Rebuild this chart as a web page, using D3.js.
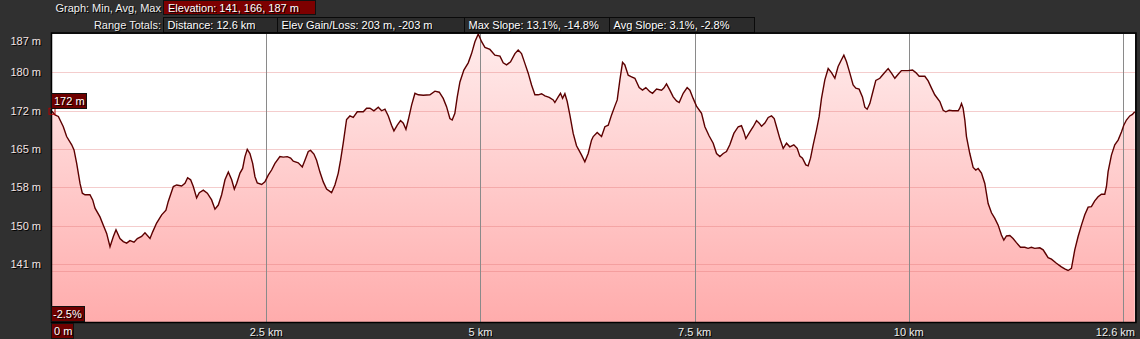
<!DOCTYPE html>
<html>
<head>
<meta charset="utf-8">
<script src="https://cdn.jsdelivr.net/npm/d3@7"></script>
<style>
  html, body { margin: 0; padding: 0; background: #303030; }
  svg { display: block; }
  text { font-family: "Liberation Sans", Arial, sans-serif; font-size: 11px; }
</style>
</head>
<body>
<svg id="chart" width="1140" height="339"></svg>
<script>
// distance along the track (km) and elevation (m)
var distKm = [0, 0.035, 0.074, 0.132, 0.171, 0.230, 0.257, 0.288, 0.327, 0.354, 0.385, 0.443, 0.475, 0.502, 0.560, 0.599, 0.638, 0.677, 0.716, 0.747, 0.793, 0.832, 0.871, 0.910, 0.957, 0.996, 1.046, 1.085, 1.144, 1.175, 1.221, 1.280, 1.330, 1.357, 1.416, 1.455, 1.513, 1.552, 1.583, 1.618, 1.649, 1.688, 1.719, 1.766, 1.813, 1.863, 1.902, 1.941, 1.980, 2.019, 2.058, 2.097, 2.128, 2.155, 2.194, 2.225, 2.252, 2.279, 2.310, 2.342, 2.369, 2.396, 2.447, 2.485, 2.524, 2.563, 2.602, 2.660, 2.699, 2.746, 2.785, 2.816, 2.874, 2.921, 2.952, 2.991, 3.018, 3.057, 3.088, 3.127,
  3.166, 3.205, 3.263, 3.302, 3.341, 3.368, 3.399, 3.438, 3.477, 3.516, 3.563, 3.633, 3.672, 3.711, 3.757, 3.808, 3.847, 3.886, 3.925, 3.963, 3.991, 4.030, 4.068, 4.100, 4.131, 4.158, 4.197, 4.236, 4.275, 4.333, 4.411, 4.469, 4.520, 4.566, 4.605, 4.644, 4.671, 4.702, 4.730, 4.761, 4.807, 4.858, 4.897, 4.936, 4.975, 5.014, 5.053, 5.111, 5.169, 5.228, 5.266, 5.305, 5.352, 5.403, 5.441, 5.480, 5.519, 5.558, 5.597, 5.636, 5.675, 5.714, 5.753, 5.803, 5.850, 5.869, 5.908, 5.935, 5.959, 5.986, 6.013, 6.044, 6.083, 6.122, 6.181, 6.219, 6.258, 6.297,
  6.317, 6.363, 6.414, 6.453, 6.492, 6.531, 6.569, 6.597, 6.628, 6.659, 6.686, 6.725, 6.764, 6.803, 6.853, 6.892, 6.931, 6.978, 7.009, 7.056, 7.114, 7.141, 7.172, 7.211, 7.250, 7.289, 7.320, 7.367, 7.413, 7.445, 7.483, 7.522, 7.581, 7.620, 7.670, 7.717, 7.756, 7.795, 7.834, 7.872, 7.911, 7.958, 8.009, 8.047, 8.075, 8.098, 8.145, 8.184, 8.223, 8.254, 8.281, 8.320, 8.359, 8.398, 8.429, 8.456, 8.495, 8.534, 8.573, 8.611, 8.658, 8.697, 8.728, 8.759, 8.798, 8.825, 8.853, 8.884, 8.923, 8.954, 8.981, 9.020, 9.059, 9.098, 9.137, 9.175, 9.214, 9.242, 9.273, 9.312, 9.350, 9.382, 9.420, 9.459,
  9.487, 9.514, 9.545, 9.576, 9.615, 9.662, 9.701, 9.759, 9.798, 9.837, 9.876, 9.914, 9.992, 10.043, 10.082, 10.121, 10.187, 10.226, 10.265, 10.303, 10.362, 10.401, 10.432, 10.471, 10.510, 10.576, 10.595, 10.615, 10.634, 10.654, 10.673, 10.712, 10.751, 10.782, 10.809, 10.848, 10.887, 10.926, 10.965, 11.004, 11.043, 11.081, 11.109, 11.140, 11.179, 11.217, 11.256, 11.303, 11.354, 11.392, 11.431, 11.470, 11.529, 11.568, 11.599, 11.626, 11.665, 11.723, 11.781, 11.820, 11.859, 11.898, 11.937, 11.976, 12.015, 12.054, 12.093, 12.131, 12.170, 12.209, 12.248, 12.287, 12.307, 12.326, 12.365, 12.404, 12.443, 12.482, 12.509, 12.540, 12.579, 12.610, 12.637];

var elevM = [172.0, 171.3, 171.0, 169.0, 167.1, 165.5, 164.5, 161.9, 158.0, 156.1, 155.8, 155.8, 154.8, 153.2, 151.5, 149.9, 148.3, 145.7, 147.7, 149.0, 147.3, 146.7, 146.4, 146.9, 146.6, 147.3, 147.7, 148.4, 147.3, 148.6, 150.3, 151.9, 152.8, 154.5, 157.4, 157.7, 157.5, 158.0, 159.1, 158.7, 157.4, 155.2, 156.2, 156.7, 156.1, 154.8, 153.0, 153.8, 155.8, 158.7, 160.2, 158.7, 156.9, 158.0, 160.0, 160.9, 163.2, 164.6, 163.8, 161.9, 159.3, 158.1, 157.8, 158.3, 159.6, 160.6, 161.9, 163.2, 163.1, 163.2, 162.9, 162.3, 162.0, 161.2, 162.5, 164.2, 164.4, 163.7, 162.5, 160.2,
  158.3, 156.9, 156.2, 157.7, 160.0, 162.5, 165.8, 170.4, 171.1, 170.8, 171.9, 171.9, 172.6, 172.6, 172.1, 172.8, 172.1, 172.4, 171.1, 169.3, 168.2, 169.3, 170.2, 169.7, 168.5, 170.3, 173.2, 175.5, 175.2, 175.1, 175.2, 175.9, 175.7, 174.5, 172.9, 170.6, 170.3, 171.6, 174.8, 177.7, 180.0, 181.4, 183.2, 185.5, 187.0, 185.5, 184.4, 184.0, 182.9, 182.7, 181.4, 181.0, 181.6, 183.2, 183.9, 183.2, 181.3, 179.4, 177.1, 175.2, 175.2, 175.4, 175.0, 174.7, 174.2, 173.7, 174.8, 175.5, 174.5, 175.4, 173.9, 171.3, 167.7, 165.3, 163.5, 162.2, 163.8, 166.4,
  167.1, 167.9, 167.1, 169.0, 169.3, 171.3, 173.0, 174.2, 178.1, 181.5, 181.0, 179.0, 178.7, 178.4, 176.6, 176.1, 176.6, 175.8, 175.5, 176.3, 176.1, 176.5, 177.3, 176.1, 174.8, 174.0, 173.7, 175.5, 176.6, 176.1, 174.5, 173.0, 171.6, 169.0, 167.2, 165.8, 163.8, 163.2, 163.8, 164.2, 165.5, 167.7, 169.0, 169.2, 168.0, 166.7, 168.0, 169.0, 170.2, 169.7, 169.1, 169.7, 170.8, 171.1, 170.6, 169.0, 166.7, 164.8, 165.8, 165.1, 165.5, 164.8, 163.3, 162.9, 161.6, 161.4, 162.9, 165.5, 168.4, 171.0, 174.5, 178.1, 180.3, 179.5, 178.4, 180.7, 182.0, 182.9, 181.6, 179.4, 177.1, 176.5, 176.3, 174.8,
  172.8, 172.4, 173.5, 175.5, 178.0, 178.4, 179.2, 180.3, 179.4, 178.4, 179.2, 179.9, 179.9, 180.0, 179.5, 178.8, 178.8, 177.9, 176.5, 175.2, 173.9, 172.2, 171.9, 172.2, 172.1, 172.1, 172.6, 173.5, 172.6, 170.3, 167.1, 163.8, 161.1, 160.6, 160.9, 160.0, 158.0, 154.1, 152.3, 151.2, 149.9, 148.0, 147.0, 147.8, 147.9, 147.3, 146.5, 145.6, 145.6, 145.4, 145.6, 145.4, 145.5, 145.1, 144.3, 143.6, 143.3, 142.5, 141.8, 141.4, 141.1, 141.5, 145.1, 147.7, 149.9, 151.9, 153.4, 153.5, 154.6, 155.4, 155.9, 155.9, 157.4, 160.3, 163.5, 165.5, 166.4, 168.0, 169.3, 170.3, 171.1, 171.4, 171.9];

var yTickLabels = ["187 m", "180 m", "172 m", "165 m", "158 m", "150 m", "141 m"];
var xTickValues = [2.5, 5, 7.5, 10, 12.5];
var xTickLabels = ["2.5 km", "5 km", "7.5 km", "10 km"];
var totalKm = 12.64;
var minElev = 141, maxElev = 187;
var startLabel = "172 m";
var slopeLabel = "-2.5%";
var originLabel = "0 m";
var graphRow = ["Elevation: 141, 166, 187 m"];
var totalsRow = ["Distance: 12.6 km", "Elev Gain/Loss: 203 m, -203 m", "Max Slope: 13.1%, -14.8%", "Avg Slope: 3.1%, -2.8%"];
var totalsWidths = [114, 187, 145, 145];

(function() {
  var svg = d3.select("#chart");
  var pLeft = 52, pRight = 1135, pTop = 34, pBottom = 322;

  var x = d3.scaleLinear().domain([0, totalKm]).range([pLeft, pRight]);
  var y = d3.scaleLinear().domain([minElev, maxElev]).range([271, pTop]);
  var yGrid = d3.scalePoint().domain(yTickLabels).range([pTop, 264]);

  // label with a dark shadow, like the original
  function shadowText(g, tx, ty, str, anchor, fill) {
    g.append("text").attr("x", tx + 1).attr("y", ty + 1).attr("text-anchor", anchor)
      .attr("fill", "#000").text(str);
    g.append("text").attr("x", tx).attr("y", ty).attr("text-anchor", anchor)
      .attr("fill", fill || "#fff").text(str);
  }

  // header
  var head = svg.append("g");
  shadowText(head, 161, 12, "Graph: Min, Avg, Max", "end", "#f0f0f0");
  shadowText(head, 161, 29, "Range Totals:", "end", "#f0f0f0");
  head.append("rect").attr("x", 163.5).attr("y", 0.5).attr("width", 152).attr("height", 14)
    .attr("fill", "#7d0000").attr("stroke", "#111");
  shadowText(head, 168, 12, graphRow[0], "start");
  var bx = 163.5;
  totalsRow.forEach(function(t, i) {
    head.append("rect").attr("x", bx).attr("y", 17.5).attr("width", totalsWidths[i]).attr("height", 15)
      .attr("fill", "#2b2b2b").attr("stroke", "#0a0a0a");
    shadowText(head, bx + 4, 29, t, "start");
    bx += totalsWidths[i];
  });

  // plot background and gradient fill
  var defs = svg.append("defs");
  var grad = defs.append("linearGradient").attr("id", "fillGrad")
    .attr("gradientUnits", "userSpaceOnUse")
    .attr("x1", 0).attr("y1", pTop).attr("x2", 0).attr("y2", pBottom);
  grad.append("stop").attr("offset", "0%").attr("stop-color", "#ffecec");
  grad.append("stop").attr("offset", "100%").attr("stop-color", "#ffacac");

  svg.append("rect").attr("x", pLeft).attr("y", pTop).attr("width", pRight - pLeft).attr("height", pBottom - pTop)
    .attr("fill", "#fff");

  var pts = distKm.map(function(d, i) { return [d, elevM[i]]; });

  svg.append("path").datum(pts)
    .attr("fill", "url(#fillGrad)")
    .attr("d", d3.area()
      .x(function(d) { return x(d[0]); })
      .y0(pBottom)
      .y1(function(d) { return y(d[1]); }));

  // horizontal grid
  svg.selectAll(".hgrid").data(yTickLabels.slice(1)).enter().append("line")
    .attr("x1", pLeft).attr("x2", pRight)
    .attr("y1", function(d) { return Math.round(yGrid(d)) + 0.5; })
    .attr("y2", function(d) { return Math.round(yGrid(d)) + 0.5; })
    .attr("stroke", "#e07070").attr("stroke-opacity", 0.35);
  svg.append("line").attr("x1", pLeft).attr("x2", pRight)
    .attr("y1", Math.round(y(minElev)) + 0.5).attr("y2", Math.round(y(minElev)) + 0.5)
    .attr("stroke", "#e07070").attr("stroke-opacity", 0.35);

  // vertical grid
  svg.selectAll(".vgrid").data(xTickValues).enter().append("line")
    .attr("x1", function(d) { return Math.round(x(d)) + 0.5; })
    .attr("x2", function(d) { return Math.round(x(d)) + 0.5; })
    .attr("y1", pTop).attr("y2", pBottom)
    .attr("stroke", "#8a8a8a").attr("stroke-width", 1);

  // profile line
  svg.append("path").datum(pts)
    .attr("fill", "none")
    .attr("stroke", "#5c0000")
    .attr("stroke-width", 1.4)
    .attr("d", d3.line()
      .x(function(d) { return x(d[0]); })
      .y(function(d) { return y(d[1]); }));

  // plot frame
  svg.append("rect").attr("x", pLeft - 0.5).attr("y", pTop - 1).attr("width", pRight - pLeft + 1.5).attr("height", pBottom - pTop + 1.5)
    .attr("fill", "none").attr("stroke", "#000").attr("stroke-width", 1.5);

  // y labels
  var yl = svg.append("g");
  yTickLabels.forEach(function(t) {
    var ty = Math.max(yGrid(t), 41);
    shadowText(yl, 41, ty + 4, t, "end", "#f3e4e4");
  });

  // x labels
  var xl = svg.append("g");
  xTickLabels.forEach(function(t, i) {
    shadowText(xl, x(xTickValues[i]), 336, t, "middle", "#eeeeee");
  });
  shadowText(xl, x(totalKm), 336, totalKm.toFixed(1) + " km", "end", "#eeeeee");

  // start marker
  var sx = x(distKm[0]), sy = y(elevM[0]);
  svg.append("rect").attr("x", sx - 3).attr("y", sy - 3).attr("width", 6).attr("height", 6)
    .attr("fill", "none").attr("stroke", "#b00000").attr("stroke-width", 1);
  svg.append("rect").attr("x", 51.5).attr("y", 93.5).attr("width", 35).attr("height", 15)
    .attr("fill", "#6e0000").attr("stroke", "#111");
  shadowText(svg, 54, 105, startLabel, "start");

  // slope and origin boxes
  svg.append("rect").attr("x", 51.5).attr("y", 306.5).attr("width", 33).attr("height", 15)
    .attr("fill", "#6e0000").attr("stroke", "#111");
  shadowText(svg, 53, 318, slopeLabel, "start");
  svg.append("rect").attr("x", 51.5).attr("y", 323.5).attr("width", 22).attr("height", 15)
    .attr("fill", "#6e0000").attr("stroke", "#111");
  shadowText(svg, 54, 335, originLabel, "start");
})();
</script>
</body>
</html>
